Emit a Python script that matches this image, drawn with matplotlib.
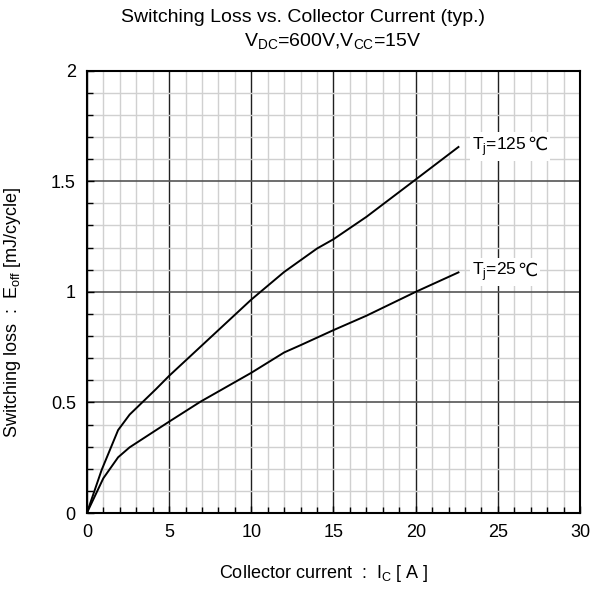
import numpy as np
import matplotlib
matplotlib.use("Agg")
import matplotlib.pyplot as plt
from matplotlib.ticker import MultipleLocator
from matplotlib.offsetbox import TextArea, HPacker, AnnotationBbox

plt.rcParams['font.family'] = ['Liberation Sans', 'DejaVu Sans']
plt.rcParams['mathtext.fontset'] = 'custom'
plt.rcParams['mathtext.rm'] = 'Liberation Sans'

# Eoff vs Ic
ic_125 = [0, 0.9, 1.9, 2.6, 4.2, 5, 10, 12, 14, 15, 17, 20, 22.6]
eoff_125 = [0, 0.195, 0.375, 0.445, 0.56, 0.62, 0.965, 1.09, 1.196, 1.238, 1.339, 1.508, 1.655]

ic_25 = [0, 1.0, 1.9, 2.6, 5, 6.9, 10, 12, 13, 15, 17, 20, 22.6]
eoff_25 = [0, 0.157, 0.252, 0.297, 0.413, 0.503, 0.634, 0.726, 0.759, 0.827, 0.892, 1.0, 1.088]

fig = plt.figure(figsize=(5.95, 5.89), dpi=100)
ax = fig.add_axes([0.146, 0.129, 0.829, 0.751])

ax.set_xlim(0, 30)
ax.set_ylim(0, 2)
ax.xaxis.set_major_locator(MultipleLocator(5))
ax.xaxis.set_minor_locator(MultipleLocator(1))
ax.yaxis.set_major_locator(MultipleLocator(0.5))
ax.yaxis.set_minor_locator(MultipleLocator(0.1))
ax.set_yticks([0, 0.5, 1, 1.5, 2])
ax.set_yticklabels(['0', '0.5', '1', '1.5', '2'])

# grid: light minor cells, dark major lines
ax.grid(which='minor', color='#d0d0d0', linewidth=1.0)
ax.grid(which='major', axis='x', color='#202020', linewidth=1.0)
ax.grid(which='major', axis='y', color='#555555', linewidth=1.2)
ax.set_axisbelow(True)

ax.tick_params(which='both', direction='in', top=False, right=False,
               labelsize=13, pad=8)
ax.tick_params(which='major', length=5, width=1)
ax.tick_params(which='minor', length=4, width=1)
for s in ax.spines.values():
    s.set_linewidth(1.5)
    s.set_color('black')

ax.plot(ic_125, eoff_125, color='black', linewidth=1.4)
ax.plot(ic_25, eoff_25, color='black', linewidth=1.4)


def tj_label(x, y, temp):
    # degree sign glyph comes from DejaVu, the rest from Liberation Sans
    parts = [TextArea('T$_{\\rm j}$=' + temp, textprops=dict(fontsize=12.5)),
             TextArea('℃', textprops=dict(fontsize=13, family='DejaVu Sans'))]
    pack = HPacker(children=parts, align='baseline', pad=0, sep=0)
    ab = AnnotationBbox(pack, (x, y), xycoords='data', box_alignment=(0, 0.5),
                        frameon=True, pad=0.2,
                        bboxprops=dict(facecolor='white', edgecolor='none'))
    ax.add_artist(ab)


tj_label(23.45, 1.658, '125')
tj_label(23.45, 1.09, '25')

fig.text(324 / 595, 1 - 574 / 589, 'Collector current  :  I$_{\\rm C}$ [ A ]',
         fontsize=13, ha='center', va='center')
fig.text(13 / 595, 1 - 312 / 589, 'Switching loss  :  E$_{\\rm off}$ [mJ/cycle]',
         fontsize=13, ha='center', va='center', rotation=90)

fig.text(303 / 595, 1 - 18 / 589, 'Switching Loss vs. Collector Current (typ.)',
         fontsize=14, ha='center', va='center')
fig.text(333 / 595, 1 - 42 / 589, 'V$_{\\rm DC}$=600V,V$_{\\rm CC}$=15V',
         fontsize=14, ha='center', va='center')

fig.savefig('out.png', dpi=100)
